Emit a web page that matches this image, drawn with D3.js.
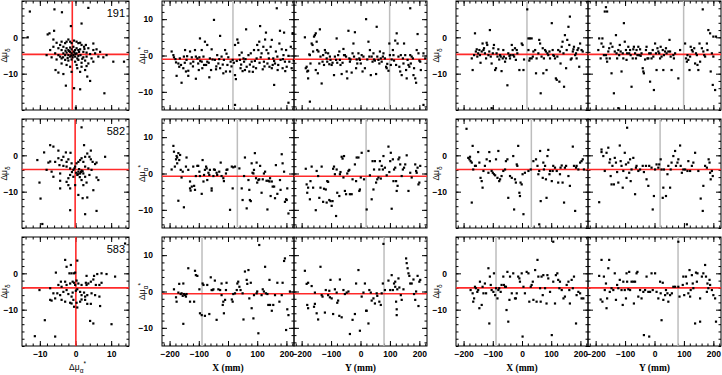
<!DOCTYPE html>
<html>
<head>
<meta charset="utf-8">
<script src="https://cdn.jsdelivr.net/npm/d3@7"></script>
<style>
  body { margin: 0; background: #fff; }
</style>
</head>
<body>
<svg id="chart"></svg>
<script>
// proper motion residuals for three fields, against plate position

var fields = ["191", "582", "583"];
var meanX = [17, 32, -89];          // grey line, X (mm)
var meanY = [99, 19, 80];           // grey line, Y (mm)
var zeroA = [-1.05, -0.75, -0.6];   // red line, mu_a* panels
var zeroD = [-4.7, -3.9, -4.0];     // red line, mu_d panels
var crossA = [-0.9, -0.1, 0.1];     // red vertical line in the mu-mu panels

var posMajor = [-200, -100, 0, 100, 200];
var posMinor = d3.range(-220, 221, 20);
var pmMajor = [-10, 0, 10];
var pmMinor = d3.range(-14, 15, 2);
var dMajor = [-10, 0];
var dMinor = d3.range(-20, 11, 2);

// ---- field 191 ----
var f191_pm = [[-12.8,7.1],[-5.9,7.7],[-3.8,6.9],[3.6,8.1],[-1.3,3.1],[1.7,3.8],[-13.4,0],[-7.8,0.8],[-7.3,1.1],[-6,1.8],[-6.2,-0.6],[7.8,-5.5],[10.6,-6.7],[13.6,-6.7],[-2.7,-13.3],[-0.4,-14],[1.3,-14.3],[4.1,-12],[3.3,-10.8],[8.1,-15.4],[0.1,-19.4],[-5.6,-9],[-4.8,-9.7],[-3.4,-10.1],[-1.1,-9.5],[0.5,-8.5],[1.3,-9.5],[2.7,-9],
[-5.3,-1.5],[-4.3,-2.1],[-3.9,-1.2],[-2.9,-1.6],[-2.5,-1.2],[-2,-0.6],[-1.5,-1.2],[-1.1,-1.6],[-0.4,-0.9],[0.3,-1.2],[0.8,-1.6],[1.3,-1.5],[1.7,-2.1],[2.4,-2.6],[2.9,-2.1],[3.6,-3],[5,-3.5],[5.9,-3.3],
[-4.8,-3],[-3.9,-3.5],[-3.4,-2.6],[-2.5,-3],[-2,-3.5],[-1.5,-2.8],[-1.1,-3.3],[-0.6,-2.6],[-0.1,-3.5],[0.3,-3],[0.8,-3.5],[1.3,-3.3],[2.2,-4],[3.1,-4.2],[4.1,-4.6],[5.5,-4.4],
[-5.7,-4.4],[-4.8,-4.9],[-4.3,-5.3],[-3.4,-4.4],[-2.9,-4.9],[-2.5,-4.2],[-2,-4.9],[-1.5,-5.3],[-1.1,-4.4],[-0.6,-4.9],[-0.1,-5.3],[0.3,-4.4],[0.8,-5.1],[1.4,-4.9],[2.2,-5.5],[3.1,-5.3],[4.5,-5.8],[6.4,-5.3],
[-6.7,-5.5],[-5.3,-6.1],[-3.9,-5.8],[-2.9,-6.2],[-2,-6.4],[-1.1,-6.1],[-0.1,-6.7],[0.8,-6.2],[1.7,-7],[2.7,-6.4],[3.6,-7.2],[5,-6.7],
[-2.5,-7.6],[-1.5,-8.1],[0.3,-7.6],[1.7,-8.1],[3.1,-7.9],[-3.9,-7.2],[-7.1,-3.5],[-8.1,-4.9],[-6.2,-2.6],[5,-1.7],[6.9,-4],[8.7,-4.9],
[-1.5,-4],[-0.8,-5.5],[-0.3,-4.2],[-2.2,-5.7],[0.5,-5.8],[-1.8,-3.8],[1,-4],[-0.5,-3.9],[-1.2,-5],[0,-4.6],[-2.8,-3.7],[1.9,-5.9],[-3.5,-5.5],[2.5,-3.2]];

var f191_aX = [[-193,1.1],[-187,0.1],[-185,-0.5],[-178,-1.9],[-176,-5.6],[-170,-2.2],[-167,-3.1],[-159,-7.5],[-161,-2.6],[-153,-3.5],[-151,-0.3],[-147,1.5],[-144,-4.4],[-142,-1.2],[-136,-5.6],[-136,-4.2],[-130,1.1],[-128,-2.2],[-124,-0.5],[-119,-1.7],[-113,1.5],[-110,-0.3],[-110,-6.4],[-105,-0.8],[-102,-2.2],[-98,-0.5],[-96,4.7],[-90,1.5],[-90,-1.7],[-84,-0.3],[-82,-2.6],[-79,3.8],[-75,-2.6],[-71,-1.7],[-71,2.9],[-64,-6],[-62,-0.8],[-56,1.7],[-53,-1.1],[-48,9.8],[-45,-1.2],[-41,-3.8],[-37,0.1],[-33,-2.2],[-27,5.4],[-27,-3.5],[-22,-0.3],[-16,-4.9],[-14,-1.2],[-10,1.5],[-7,-4.4],[-2,-2.6],[1,-0.5],[7,-4.4],[9,-1.7],[16,-1.2],[24,-13.6],[24,2.9],[24,-5.4],[27,-6.5],[32,4.4],[35,3.5],[39,0.1],[41,-1.2],[43,-3.5],[47,0.8],[50,-4.3],[53,-0.8],[55,-1.7],[58,-4],[62,7.2],[64,-3.1],[70,0.1],[73,-4.4],[78,0.6],[81,-1.7],[87,-3.1],[89,1.5],[96,-3.5],[98,-0.8],[100,2.9],[104,1.5],[107,3.8],[110,8.1],[112,-0.5],[115,0.6],[119,-3.8],[121,2.4],[123,-1.7],[127,4.4],[130,6.3],[132,1.5],[135,-2.2],[138,0.6],[142,-3.1],[146,2.4],[150,4.3],[153,-2.6],[155,-0.8],[158,-8.1],[161,-2.2],[164,1.1],[167,13],[169,-0.3],[172,-2.6],[176,3.3],[178,6.8],[180,-1.2],[184,1.7],[187,-3.5],[190,0.1],[192,6.3],[195,-1.7],[199,1.5],[201,-3.1],[207,-13],[207,-0.1],[210,-1.7],[215,2.4],[218,-3.5],[221,6.1],[223,6.1],[225,-1.4],
[-180,-1],[-165,-0.8],[-148,-2],[-120,-3],[-95,-1.5],[-88,-3.5],[-66,-2],[-58,-4],[-30,-1],[-18,-2.5],[-5,0.5],[12,-3],[20,-2],[45,-2.5],[60,-1],[75,-2.5],[92,-1.5],[108,-2],[125,-3],[140,-0.8],[158,-1.5],[170,-4],[188,-1],[196,-4.3],[-140,-0.2],[-100,-4],[-40,-3],[30,-1.5],[85,-4.5],[150,-3.5]];

var f191_aY = [[-189,5],[-186,-3.5],[-183,-3.1],[-181,-4.4],[-178,-4.2],[-178,-6.3],[-174,0.3],[-172,0.1],[-170,-2.2],[-166,3.3],[-163,2.9],[-161,1.1],[-158,5.2],[-155,5.6],[-152,6.1],[-152,-4],[-149,3.8],[-147,1.5],[-145,-4.9],[-143,1.1],[-140,-2.2],[-138,7.2],[-136,-0.3],[-132,-7.7],[-172,-12.7],[-129,-1.7],[-127,0.1],[-124,-2.6],[-121,1.5],[-118,0.8],[-115,-0.8],[-113,-1.7],[-110,0.6],[-106,-2.4],[-104,-0.3],[-102,-1.2],[-98,-2.6],[-95,-2],[-90,-5.4],[-87,-0.3],[-83,-1.2],[-81,4.7],[-79,-2],[-76,0.1],[-72,1.1],[-70,-1.2],[-68,-2.6],[-64,-5.1],[-61,-2],[-58,1.8],[-56,0.1],[-53,0.1],[-49,-0.3],[-47,-4.4],[-45,-6.3],[-41,6.8],[-38,-0.8],[-36,-1.7],[-34,-1.1],[-30,-4.7],[-27,0.6],[-24,3.3],[-22,-0.3],[-19,6.4],[-15,-3.5],[-13,-1.1],[-11,-2.2],[-7,0.6],[-4,-0.8],[-2,-1.2],[1,-2.2],[4,0.1],[7,-4.4],[10,-0.3],[15,-3.5],[19,10],[23,-1.1],[27,3.8],[30,-0.3],[32,1.5],[35,-5.4],[38,-0.3],[41,-1.7],[44,0.6],[46,-1.1],[49,-1.4],[53,-5.1],[55,7.9],[57,-0.3],[61,-1.2],[64,-2.2],[66,1.1],[69,-0.8],[72,-1.7],[76,-0.3],[78,0.6],[83,-0.8],[87,-3.1],[89,-3.5],[91,-2.3],[95,-4.2],[98,3.3],[100,0.1],[103,-2.6],[106,-1.1],[110,1.5],[112,0.1],[114,-1.4],[118,4.1],[121,-2.6],[123,6.1],[126,3.3],[129,-0.3],[132,-3.1],[135,-4.4],[137,0.1],[140,-5.4],[144,-0.8],[146,-2.2],[148,3.3],[152,0.1],[155,-4],[157,-6.3],[160,-1.2],[163,-2.6],[166,-3.1],[169,0.1],[171,-2.2],[174,-0.3],[178,-0.8],[180,-5.4],[182,-3.5],[186,-6.3],[189,-7.5],[191,1.5],[194,5.9],[197,0.6],[200,-1.4],[203,-1.7],[205,-4],[169,13],[214,-13.6],[220,-0.8],[214,0.6]];

var f191_dX = [[-172,-5.8],[-169,-9],[-164,-4.9],[-161,1.1],[-158,-3.9],[-155,-3.3],[-153,-5.3],[-150,-4.4],[-146,-3.5],[-144,-4.9],[-142,-7],[-138,-3.9],[-135,-1.7],[-132,-3.5],[-130,-3],[-127,-4.4],[-123,-5.8],[-121,-1.5],[-119,-2.1],[-115,-4.9],[-112,-3.9],[-110,2],[-107,-5.3],[-104,-7.2],[-100,-4.4],[-98,-3],[-96,-2.1],[-92,-9],[-89,-8.5],[-87,-4.4],[-84,-5.3],[-81,-3.3],[-78,-6.1],[-75,-4.9],[-73,-5.3],[-70,-9.3],[-66,-5.8],[-64,-3.5],[-62,-5.3],[-58,-6.7],[-55,-5.8],[-50,-13.2],[-47,-4.4],[-43,-5.1],[-41,-5.8],[-39,-4.9],[-35,-2.1],[-32,-3.5],[-30,-4.9],[-27,-5.3],[-24,-3],[-21,-6.2],[-18,-3.5],[-16,-4.4],[-9,-9],[-1,-1.7],[2,-2.1],[5,-9],[7,-6.1],[18,7.7],[22,-0.3],[27,-0.3],[33,-0.3],[22,-3.5],[25,-6.4],[27,-5.8],[33,-5.8],[37,-5.3],[39,-3.9],[45,-3.5],[48,-9.9],[50,-5.8],[56,-4.4],[59,-0.7],[62,-1.7],[64,-15.4],[67,-5.3],[71,-3],[73,-9.9],[75,-5.8],[79,-3.5],[82,-3.9],[84,-9],[87,-4.4],[90,-4.9],[94,-3.9],[96,-5.8],[102,3.9],[105,-3.5],[107,-4.9],[110,-5.1],[113,-5.8],[116,-11.3],[119,-11.7],[121,-5.3],[124,-3.5],[128,-12.2],[130,-3.9],[132,-7.2],[136,-2.6],[139,-1.2],[142,-4.4],[144,-13.6],[147,0.6],[151,-8.5],[153,-3.5],[155,-0.7],[159,2.9],[162,-2.1],[164,5.7],[167,-6.1],[170,-5.8],[174,-3.9],[176,-3.3],[178,-2.6],[182,-4.9],[185,-4.4],[187,-5.8],[190,-3.5],[193,-3],[196,-8.1],[199,-1.7],[204,-3.5],[208,-3.9],[-104,-19.5]];

var f191_dY = [[-191,-3.5],[-188,-0.3],[-183,-5.8],[-180,-1.7],[-177,-0.3],[-174,-2.6],[-172,-4.9],[-169,7.1],[-165,8.3],[-161,7.1],[-165,-4.9],[-163,-5.8],[-161,-6.7],[-157,-3.9],[-154,-3],[-152,-5.8],[-149,-1.7],[-146,-9.9],[-143,-2.6],[-138,-15.4],[-135,-3.9],[-131,0.6],[-129,-4.4],[-127,-5.8],[-123,-3.5],[-120,-4.9],[-118,-2.1],[-115,-3.9],[-112,-9.4],[-108,-4.4],[-106,-5.8],[-104,3.9],[-101,-1.2],[-97,-3.5],[-95,-6.2],[-93,-4.4],[-89,-2.6],[-86,-4.4],[-83,-3.5],[-81,-4.9],[-78,-13.6],[-74,-5.8],[-72,-3.3],[-70,-2.6],[-66,-4.4],[-63,-5.8],[-61,-3.5],[-58,-4.9],[-55,-2.6],[-52,-4.9],[-49,-3.3],[-47,-5.1],[-44,-4.4],[-40,-8.5],[-38,-9.4],[-36,-9.9],[-32,-6.1],[-29,-3.5],[-27,-2.6],[-24,-5.8],[-21,-5.8],[-18,-4.4],[-15,-12.2],[-13,-4.4],[-10,-5.8],[-6,-3.5],[-4,-5.3],[-2,-14.5],[2,-1.7],[5,-4.4],[7,-9],[10,-3],[13,-3.9],[16,-4.4],[19,-5.8],[21,-2.6],[24,-5.3],[28,-3.5],[30,-9],[32,-4.9],[36,-3.9],[39,-3],[41,-4.4],[47,-3.9],[51,-0.7],[53,-3.9],[55,-5.3],[58,-9],[64,-4.9],[66,-5.8],[70,-4.4],[81,-11.3],[87,-3.5],[104,-1.7],[107,-5.8],[110,-6.7],[112,-4.9],[115,-6.2],[119,-9],[121,-5.3],[123,-2.6],[127,-3.5],[130,-3.9],[135,-3],[138,-7.2],[141,-4.4],[144,-4.9],[146,-7.6],[149,-9],[153,-1.7],[155,-6.7],[161,-3],[164,7.7],[166,-3.9],[169,-4.9],[172,-5.3],[178,-1.7],[180,-3.5],[183,2],[189,1.1],[191,-9.4],[195,-4.4],[198,-13.1],[200,-5.3],[206,-14.5],[200,0.2],[209,0.2],[-123,-19.5]];

// ---- field 582 ----
var f582_pm = [[1.7,7.7],[-7.1,2.8],[-6.2,2.4],[-8.8,0.8],[-4.8,1.3],[-2.7,0.8],[-1.4,0.7],[2.4,2.8],[4.3,1.3],[-10.7,-1.3],[-7.6,-2],[-7.1,-1.7],[-5.7,-1.8],[-4.8,-0.8],[-3.9,-1.3],[-3.4,-0.4],[-2.5,-1.8],[-2,-1.1],[-4.5,-2.7],[-3.4,-2.9],[-2.5,-3.1],[-1.1,-2.2],[-1.5,-3.6],[-0.6,-4],[-0.1,-3.1],[0.3,-2.2],[0.8,-1.8],[1.3,-1.3],[1.7,-0.8],[2.2,-1.8],[2.7,-0.4],[3.3,0.5],[3.9,-0.4],[4.3,-1.1],[4.8,-1.8],[5.5,-2.4],[5.9,-2],[2.7,-3.1],[3.6,-3.6],[4.5,-4],[1.7,-4.2],[0.8,-4.5],[1.3,-5],[2.2,-5],[0.5,-5.4],[2.7,-5.9],[3.9,-5.4],[1.7,-6.8],[2.2,-8.2],[3.1,-7.5],[-0.6,-5.9],[-1.5,-5.4],[-2,-6.3],[-4.3,-5],[-6.2,-5.9],[-6.7,-4.5],[-8.1,-4],[-4.3,-7],[-2.5,-7.3],[-2,-8.2],[-4.3,-9.1],[-1.5,-9.1],[-0.1,-8.2],[0.8,-10.9],[2,-11.8],[3.3,-11.6],[5,-9.6],[5.9,-6.1],[6.4,-6.8],[8.3,-0.4],[-10.1,-7.5],[-9.8,-11.9],[-1.5,-15.1],[5.9,-15.3],[2.7,-16.2],[-9.3,-18.9],[0.2,-4.8],[1,-3.8],[1.5,-4.6],[-0.3,-3.6],[0.7,-5.2],[2,-4.4],[-1,-4.6],[1.2,-6]];

var f582_aX = [[-193,1.1],[-187,7.6],[-185,6],[-182,1.9],[-178,3.9],[-176,4.8],[-174,4.4],[-174,2.8],[-170,5.6],[-167,3.7],[-164,5.1],[-162,1],[-159,-1.1],[-155,0.5],[-170,-7.5],[-151,-9.3],[-144,1.9],[-142,4.4],[-136,1],[-130,-2.2],[-130,-4.1],[-128,-4.7],[-124,-3.6],[-119,1.9],[-116,-3.4],[-113,-4.5],[-110,-0.7],[-105,2.1],[-102,2.1],[-98,0.5],[-96,-0.7],[-90,-5.6],[-87,3.7],[-84,-2.2],[-82,-0.4],[-79,1],[-75,1.9],[-73,1.4],[-71,-1.8],[-67,0.2],[-64,-0.4],[-62,1],[-56,-4.1],[-56,-4.7],[-50,-0.7],[-48,1.1],[-45,1],[-39,0.2],[-37,-0.4],[-30,0.5],[-25,3],[-22,-0.7],[-16,-1.3],[-14,-2.1],[-7,0],[-5,1],[-2,1.1],[7,-10],[13,1.9],[16,-4.1],[18,1.7],[24,1.9],[39,1.4],[47,-4.1],[50,-7.3],[55,-0.7],[58,4.4],[64,-9.6],[70,-1.8],[73,-4.5],[75,-7.3],[78,-7.6],[81,2.8],[84,0.2],[87,0],[89,1],[92,5.6],[96,-1.3],[98,3],[100,-2.5],[104,-1.8],[107,-1.6],[110,2.1],[115,-5.3],[119,-1.6],[123,0],[127,0.5],[132,-2],[135,-9.9],[138,-2],[142,-2.2],[144,-1.3],[146,-6.2],[150,-2.2],[153,-3.6],[158,-3.6],[161,-6.8],[164,2.3],[169,-5.6],[178,-1.8],[180,-4.5],[184,5.3],[187,2.8],[192,0.5],[195,-7.8],[199,-7.1],[201,-7.3],[203,-4.1],[207,-11]];

var f582_aY = [[-186,1.3],[-183,-3],[-181,-5.3],[-178,-3.9],[-172,-7.1],[-170,-2.1],[-166,1.9],[-161,-3.9],[-152,-10.1],[-149,0.7],[-144,-0.7],[-140,-6.7],[-136,-3.9],[-132,1.9],[-127,-7.8],[-124,-4.2],[-118,-4.4],[-115,-8],[-113,-2.1],[-110,-2.3],[-106,-7.3],[-102,-7.6],[-98,-8.9],[-95,-7.6],[-93,1.3],[-90,1.9],[-87,-0.2],[-83,-11.7],[-81,1.1],[-79,-5.3],[-72,-6.2],[-70,-0.2],[-68,0.4],[-64,4.6],[-61,4.1],[-58,-1.1],[-56,4.8],[-53,-4.8],[-49,-5.7],[-45,0],[-41,0.7],[-38,1],[-36,-5.7],[-30,-5.7],[-27,-1.6],[-19,2.5],[-15,-2.1],[-13,4.4],[-7,4.4],[-4,-4.8],[-2,-4.4],[1,-1.1],[4,5.7],[12,-1.6],[21,-9.9],[27,6.2],[32,-0.5],[38,-7.1],[41,3.4],[44,-4.4],[46,1.1],[49,3.4],[53,-2.5],[57,-1.6],[61,-1.1],[64,1.1],[66,3.4],[69,-1.4],[72,2.1],[76,1.1],[78,4.8],[83,1.6],[89,-0.5],[95,7.4],[98,0.4],[101,3.4],[103,5.7],[106,-9.7],[110,3.9],[112,-2.1],[114,1.1],[118,1.6],[121,-2.1],[123,-4.8],[126,-3.4],[129,3.9],[132,4.4],[135,2.5],[140,-0.7],[144,1.1],[148,1.6],[152,2.5],[157,5],[163,-4.8],[169,0.2],[174,-1.1],[186,2.5],[189,0.7],[191,0.2],[194,1.6],[197,-3],[200,-2.5],[203,2.1]];

var f582_dX = [[-190,7.3],[-184,-0.7],[-180,-1.1],[-178,-0.4],[-176,-1.6],[-172,-2],[-169,2.6],[-167,-3.9],[-172,-13],[-161,-2.9],[-158,-2.9],[-150,0.9],[-146,-2],[-142,-6.2],[-138,-7.1],[-135,-8.9],[-132,-4.3],[-127,-2.9],[-121,-1.1],[-115,-4.8],[-112,0.9],[-110,-1.6],[-104,-4.3],[-100,-4.8],[-96,-5.2],[-92,-5.5],[-89,-1.1],[-84,-6.2],[-81,1.2],[-78,-7.1],[-75,-6.6],[-70,-5.7],[-64,-4.3],[-58,-3.9],[-55,-1.6],[-50,-1.1],[-47,-11.7],[-41,-5.7],[-35,-6.2],[-30,-0.2],[-27,-14.9],[-24,-6.6],[-21,-7.5],[-18,-2.5],[-16,-2.9],[-13,2.6],[-9,-10.3],[-7,-11.2],[-5,-7.5],[-1,-8],[2,-5.2],[5,-16.2],[10,-4.8],[22,-4.3],[30,-3.9],[39,-1.6],[48,-1.1],[53,-2.9],[56,-5.2],[59,-4.3],[62,1.2],[64,-12.6],[71,-6.2],[73,-2],[75,-3.9],[79,-2.9],[82,-6.6],[84,-11.7],[87,-0.2],[90,1.5],[94,-5.2],[96,-4.3],[102,-7.1],[105,-4.3],[107,-2.9],[113,-3.4],[119,-4.3],[124,-7.5],[130,-5.2],[132,-3.4],[136,-2.8],[139,-7.5],[144,-13],[147,-3.4],[151,-2.9],[159,-5.7],[164,-8.4],[174,2.4],[178,-2.9],[182,-15.3],[185,-3.4],[187,-2.9],[193,-3.9],[199,-2],[204,-1.6],[208,-1.1],[212,-3.9],[59,-19]];

var f582_dY = [[-188,-12.9],[-180,1.6],[-180,0.9],[-174,-0.2],[-169,-4.3],[-163,0.7],[-157,2.1],[-153,-2],[-151,-1.1],[-149,-5.7],[-146,-8],[-143,-2.9],[-138,-8],[-135,-0.7],[-131,-2],[-127,-4.6],[-123,-7.5],[-118,2.7],[-115,-1.6],[-112,-2.9],[-108,-8.9],[-106,-4.3],[-101,0.7],[-97,-2.5],[-95,-6.2],[-93,7.6],[-89,-2],[-86,-4.8],[-83,-1.1],[-81,-7.1],[-78,-3.9],[-72,-0.7],[-66,-10.7],[-63,-3.4],[-61,-2.9],[-55,-4.3],[-49,-3.9],[-40,-2.9],[-36,-4.6],[-29,-2.9],[-27,-6.6],[-21,-8.4],[-18,-2.9],[-10,-3.4],[-6,-14.9],[-2,-11.2],[2,-3.9],[7,-2.5],[13,-3.4],[16,-2.5],[21,-1.1],[24,-3.9],[28,-11.7],[30,-8.9],[32,-3.9],[39,-11.2],[44,-5.2],[47,-2.9],[53,-8.9],[55,-3.9],[58,-2],[64,-0.2],[70,1.2],[73,-2.9],[78,-2],[81,-1.1],[87,2.7],[89,-2.9],[93,-4.8],[98,-3.9],[104,-3.9],[110,-19],[112,-4.3],[115,-1.6],[121,-4.3],[127,-2.9],[132,-2],[138,0.7],[149,-4.3],[157,-11.9],[164,-15.3],[166,-8.4],[172,-2.9],[178,-3.4],[184,-1.1],[187,-2],[189,-4.8],[191,-6.6],[195,-4.3],[198,-5.7]];

// ---- field 583 ----
var f583_pm = [[-2.9,3.7],[-2.5,1.8],[-1.3,2.3],[0.5,3.5],[-1.7,0],[-1.1,0],[-0.4,0],[-0.1,0.2],[-5.5,0.2],[3.1,-0.7],[5.2,-0.7],[6.1,-0.2],[7.3,0],[8.7,-0.2],[11.1,-0.9],[13.9,8.2],[-4.1,-2.3],[-2.9,-2.3],[-0.8,-2.3],[-0.4,-2.6],[0.3,-2],[-4.8,-3.2],[-3.9,-3.7],[-2.5,-3.2],[-1.5,-2.8],[-0.1,-3.2],[0.8,-2.8],[1.7,-3.2],[2.9,-2.6],[3.1,-3.2],[3.6,-2.8],[4.3,-2.3],[5,-1.7],[5.7,-3.2],[6.7,-3.2],[7.3,-2.6],[-7.1,-4.1],[-6.2,-5.5],[-5.1,-5.5],[-4.3,-6],[-3.4,-5.1],[-2.5,-4.6],[-2,-5.7],[-1.1,-6.4],[-0.8,-5.3],[0.1,-4.8],[0.5,-4.4],[1.3,-5.1],[1.7,-6],[2.4,-5.3],[2.7,-6.4],[3.3,-6],[4.5,-5.5],[5.5,-6],[6.7,-6.4],[-10.1,-4.6],[-7.1,-7.3],[-6.7,-7.5],[-5.7,-6.9],[-3.9,-7.3],[-2.9,-7.8],[-1.5,-8.1],[-0.4,-9.2],[0.5,-9.4],[1.7,-7.2],[2.7,-7.3],[3.3,-8.4],[4.3,-8.4],[6.9,-9],[0.3,-8.1],[-1.1,-8.3],[-11.4,-17.3],[-5.7,-17.4],[-8.6,-12.9],[4.1,-13.1],[5,-13.8],[10.1,-14],[1.3,-7.8],[-0.6,-7.3]];

var f583_aX = [[-185,0.6],[-178,-1.6],[-176,-2.8],[-170,-0.3],[-167,2.1],[-162,-0.7],[-159,-0.5],[-155,-1.2],[-153,2.2],[-153,-8.9],[-151,-0.7],[-147,-1],[-144,-1.4],[-142,-0.7],[-136,6.4],[-130,-2.8],[-116,-2.8],[-113,5.7],[-110,4.5],[-105,4.3],[-98,0.6],[-96,-6],[-90,-6.5],[-87,2.2],[-84,1.8],[-79,-6.7],[-71,1.8],[-64,-6.2],[-59,3.9],[-56,0.4],[-53,0.4],[-50,0.6],[-45,3],[-39,-7.8],[-33,0.6],[-27,0.4],[-22,2.2],[-22,-1],[-18,-3.7],[-16,-2.8],[-14,-6],[-10,-2.3],[-7,0.4],[-5,2.4],[13,-2.2],[16,-2.8],[18,-0.7],[24,-0.5],[30,0.4],[32,2.2],[35,2.7],[39,1.3],[43,0.4],[50,-0.5],[53,-7.7],[58,5.5],[64,3.2],[66,2.1],[70,5.9],[73,-1.9],[78,2.4],[81,-4.6],[87,-7.4],[89,-1],[98,-0.5],[100,0],[104,-11.5],[107,12.8],[115,-1],[119,0.6],[123,0],[127,6.8],[130,-0.5],[135,-0.7],[138,-3.7],[142,3.2],[144,-3.7],[150,-5.3],[155,-3.7],[161,-1],[169,2.4],[176,-2.8],[184,-1],[187,2.4],[192,8.4],[195,9.1],[199,-10.6],[203,-4.9],[207,-6.5],[212,0]];

var f583_aY = [[-189,5.7],[-183,2.1],[-178,2.4],[-181,-3.7],[-178,-4.6],[-166,1.5],[-155,-0.3],[-158,-4.2],[-155,-3.4],[-149,-6],[-144,-7.7],[-136,6.8],[-132,-1],[-129,-1.4],[-121,-5.8],[-118,0.4],[-110,-1],[-106,0.2],[-104,-1.6],[-102,3.2],[-98,-1.9],[-93,-6.2],[-87,0.6],[-81,-0.3],[-79,-3.1],[-76,-2.5],[-72,-6.7],[-70,3.3],[-64,-7.1],[-58,0.4],[-53,-0.7],[-47,-0.3],[-41,0],[-36,-11.7],[-27,-7.8],[-19,-6.2],[-15,2.2],[-7,5.9],[-2,-10.8],[4,-1.4],[10,-0.3],[15,2.2],[19,-5.3],[21,-5.3],[27,-8.8],[30,0.4],[35,-0.3],[38,-2.5],[44,-1.9],[49,-3.3],[55,-0.5],[57,-1.2],[64,-2.8],[69,-3.7],[72,-0.5],[76,2.2],[78,13.1],[83,0.4],[95,3],[101,0.4],[106,4.5],[110,0.4],[114,2.2],[118,1.3],[118,2.7],[121,-2.8],[123,-4.9],[123,-6.5],[125,0.6],[129,3.6],[132,1.1],[137,-1],[140,-2.3],[146,0.6],[155,9.1],[157,7.8],[160,6.4],[163,5],[166,4.3],[169,2.2],[174,2.2],[180,3.3],[182,-0.7],[186,-2.3],[189,0],[194,4.3],[197,-4],[200,2.7],[203,3.2]];

var f583_dX = [[-176,-4.6],[-169,-5.5],[-167,-7.8],[-164,-6.9],[-161,-3.7],[-158,-4.1],[-153,-5.1],[-150,-4.6],[-146,-9.6],[-144,-2.3],[-138,-8.7],[-135,-3.7],[-132,-5.5],[-127,-2.8],[-123,-5.5],[-115,1.4],[-112,-13.8],[-110,-0.9],[-107,-3.2],[-104,-4.6],[-98,-5.1],[-96,0],[-92,-6],[-89,-4.1],[-84,-6.9],[-81,-4.6],[-78,-4.1],[-73,-5.1],[-70,-3.2],[-64,-0.9],[-62,-3.2],[-58,-3.7],[-55,-3.7],[-53,-10.1],[-50,0.4],[-47,-13.3],[-43,-7.3],[-41,-0.9],[-35,-5.5],[-30,0],[-24,-6.9],[-21,-6.9],[-18,-5.5],[-13,-0.9],[-9,-1.4],[-7,-2.3],[-1,0],[2,-17.4],[5,-3.7],[10,-5.5],[16,0.4],[22,0],[25,-7.8],[30,-3.7],[33,-3.2],[37,-2.3],[39,-7.3],[45,0.9],[50,-7.8],[53,3.7],[56,-0.9],[62,-4.1],[64,-7.8],[67,-0.9],[71,-6],[73,-0.5],[79,-4.1],[84,-8.3],[87,-0.5],[90,-1.4],[96,-5.1],[102,-17],[107,-2.3],[107,8.7],[113,-8.3],[116,-0.5],[121,0],[124,-1.8],[128,-4.1],[130,-2.3],[136,-4.6],[142,-6.9],[147,-6.4],[153,-3.2],[159,-2.3],[162,-4.6],[164,-8.3],[170,-1.8],[174,-4.1],[178,-0.9],[185,-13.8],[187,-6],[193,-5.1],[199,-5.5],[204,-6.9],[210,-6.9]];

var f583_dY = [[-188,-0.7],[-183,-7.2],[-180,3.7],[-177,-7.8],[-172,-0.9],[-169,-4.6],[-165,-2.8],[-163,-9.6],[-161,-6.9],[-157,1.4],[-154,3.7],[-152,-5.1],[-146,-4.1],[-140,-4.6],[-135,0],[-131,-7.3],[-127,-3.2],[-123,-4.1],[-118,-1.8],[-112,-4.6],[-108,-8.7],[-106,-2.3],[-101,-4.6],[-97,-6.9],[-95,0],[-93,-2.3],[-89,-4.4],[-86,0.4],[-83,-4.6],[-78,-2.3],[-72,-2.3],[-70,-8.3],[-66,-2.3],[-61,0],[-58,0.4],[-55,-6.4],[-49,-4.6],[-44,-6.9],[-38,-5.1],[-36,-17],[-32,-4.6],[-27,-0.9],[-21,-5.1],[-18,-17.4],[-15,-5.1],[-10,0],[-6,-4.6],[2,0],[7,-5.1],[13,-6.9],[19,-2.3],[21,-5.5],[24,-12.9],[28,-2.6],[30,-7.3],[36,-6],[39,-4.6],[44,-5.5],[47,-7.8],[53,-6],[59,-5.5],[64,-3.7],[70,-3.7],[81,-3.7],[85,-6.4],[96,-3.2],[98,-0.9],[101,-6],[107,-0.9],[110,-2.8],[115,-5.5],[119,0.9],[121,-6.4],[123,-4.6],[127,-0.5],[130,-2.8],[132,-4.1],[138,-13.8],[141,0.2],[144,-2.3],[146,0],[155,-13.3],[155,-6.9],[161,-0.9],[166,0],[172,2.3],[175,-0.9],[178,-5.1],[180,-2.8],[183,-4.1],[187,-1.8],[189,-3.2],[195,-4.6],[200,-6],[206,-6.9],[209,-13.3],[81,8.7]];

var rowsData = [
  {pm: f191_pm, aX: f191_aX, aY: f191_aY, dX: f191_dX, dY: f191_dY},
  {pm: f582_pm, aX: f582_aX, aY: f582_aY, dX: f582_dX, dY: f582_dY},
  {pm: f583_pm, aX: f583_aX, aY: f583_aY, dX: f583_dX, dY: f583_dY}
];

// layout
var W = 722, H = 375;
var cols = [[22, 129], [162, 294], [294, 427], [456, 588], [588, 721]];
var rowsY = [[1, 110], [119, 228], [237, 346]];
var tickFont = "Liberation Sans";
var labFont = "Liberation Serif";

var svg = d3.select("#chart").attr("width", W).attr("height", H);
var fmt = d3.format("d");

function addAxis(g, axis, tx, ty) {
  var a = g.append("g").attr("transform", "translate(" + tx + "," + ty + ")").call(axis);
  a.select(".domain").remove();
  a.attr("font-family", tickFont).attr("font-size", 8.5).attr("font-weight", "bold");
  return a;
}

// one panel: frame, ticks on all sides, optional labels
function panel(x, y, o) {
  var g = svg.append("g");
  var x0 = x.range()[0], x1 = x.range()[1];
  var yb = y.range()[0], yt = y.range()[1];

  [[o.xMaj, 5], [o.xMin, 2.5]].forEach(function(t, i) {
    addAxis(g, d3.axisBottom(x).tickValues(t[0]).tickSize(-t[1]).tickPadding(5)
      .tickFormat(i == 0 && o.xLabels ? fmt : ""), 0, yb);
    addAxis(g, d3.axisTop(x).tickValues(t[0]).tickSize(-t[1]).tickFormat(""), 0, yt);
  });
  [[o.yMaj, 5], [o.yMin, 2.5]].forEach(function(t, i) {
    addAxis(g, d3.axisLeft(y).tickValues(t[0]).tickSize(-t[1]).tickPadding(o.yPad || 8)
      .tickFormat(i == 0 && o.yLabels ? fmt : ""), x0, 0);
    addAxis(g, d3.axisRight(y).tickValues(t[0]).tickSize(-t[1]).tickFormat(""), x1, 0);
  });

  g.append("rect")
    .attr("x", x0).attr("y", yt)
    .attr("width", x1 - x0).attr("height", yb - yt)
    .attr("fill", "none").attr("stroke", "#000").attr("stroke-width", 1);

  return g;
}

function vline(g, x, y, v, color, w) {
  g.append("line")
    .attr("x1", x(v)).attr("x2", x(v))
    .attr("y1", y.range()[1]).attr("y2", y.range()[0])
    .attr("stroke", color).attr("stroke-width", w);
}
function hline(g, x, y, v, color, w) {
  g.append("line")
    .attr("x1", x.range()[0]).attr("x2", x.range()[1])
    .attr("y1", y(v)).attr("y2", y(v))
    .attr("stroke", color).attr("stroke-width", w);
}
function dots(g, x, y, pts) {
  g.selectAll(null).data(pts).enter().append("rect")
    .attr("x", function(d) { return x(d[0]) - 1.1; })
    .attr("y", function(d) { return y(d[1]) - 1.1; })
    .attr("width", 2.2).attr("height", 2.2)
    .attr("fill", "#000");
}

// rotated y label with subscript (and optional star)
function yLabel(x, yc, sub, star) {
  var t = svg.append("text")
    .attr("transform", "translate(" + x + "," + yc + ") rotate(-90)")
    .attr("text-anchor", "middle")
    .attr("font-family", tickFont).attr("font-size", 8.5);
  t.append("tspan").text("Δμ");
  t.append("tspan").attr("font-size", 6.5).attr("dy", 2.5).text(sub);
  if (star) t.append("tspan").attr("font-size", 6.5).attr("dy", -5).text("*");
}

var RED = "#ff2a2a", GREY = "#bdbdbd";

rowsData.forEach(function(rd, r) {
  var yb = rowsY[r][1], yt = rowsY[r][0];
  var last = r == 2;
  var yA = d3.scaleLinear().domain([-15, 15]).range([yb, yt]);
  var yD = d3.scaleLinear().domain([-20, 10]).range([yb, yt]);
  var xPM = d3.scaleLinear().domain([-15, 15]).range(cols[0]);

  // mu_a* vs mu_d
  var g0 = panel(xPM, yD, {xMaj: pmMajor, xMin: pmMinor, yMaj: dMajor, yMin: dMinor,
    xLabels: last, yLabels: true, yPad: 4});
  vline(g0, xPM, yD, crossA[r], RED, 1.6);
  hline(g0, xPM, yD, zeroD[r], RED, 1.6);
  dots(g0, xPM, yD, rd.pm);
  g0.append("text")
    .attr("x", cols[0][1] - 4).attr("y", yt + 16)
    .attr("text-anchor", "end")
    .attr("font-family", tickFont).attr("font-size", 11)
    .text(fields[r]);
  yLabel(cols[0][0] - 15, (yt + yb) / 2, "δ", false);

  // four position panels
  var specs = [
    {c: 1, y: yA, pts: rd.aX, mean: meanX[r], zero: zeroA[r], labels: true},
    {c: 2, y: yA, pts: rd.aY, mean: meanY[r], zero: zeroA[r], labels: false},
    {c: 3, y: yD, pts: rd.dX, mean: meanX[r], zero: zeroD[r], labels: true},
    {c: 4, y: yD, pts: rd.dY, mean: meanY[r], zero: zeroD[r], labels: false}
  ];
  specs.forEach(function(s) {
    var x = d3.scaleLinear().domain([-226, 226]).range(cols[s.c]);
    var isD = s.c >= 3;
    var g = panel(x, s.y, {xMaj: posMajor, xMin: posMinor,
      yMaj: isD ? dMajor : pmMajor, yMin: isD ? dMinor : pmMinor,
      xLabels: last, yLabels: s.labels, yPad: 9});
    vline(g, x, s.y, s.mean, GREY, 1.5);
    hline(g, x, s.y, s.zero, RED, 1.6);
    dots(g, x, s.y, s.pts);
    if (s.labels) yLabel(cols[s.c][0] - 17, (yt + yb) / 2, isD ? "δ" : "α", !isD);
  });
});

// x axis titles
var xTitles = [["X (mm)", 1], ["Y (mm)", 2], ["X (mm)", 3], ["Y (mm)", 4]];
xTitles.forEach(function(t) {
  svg.append("text")
    .attr("x", (cols[t[1]][0] + cols[t[1]][1]) / 2).attr("y", 371)
    .attr("text-anchor", "middle")
    .attr("font-family", labFont).attr("font-size", 9.5).attr("font-weight", "bold")
    .text(t[0]);
});
var pmTitle = svg.append("text")
  .attr("x", (cols[0][0] + cols[0][1]) / 2 + 2).attr("y", 370)
  .attr("text-anchor", "middle")
  .attr("font-family", tickFont).attr("font-size", 8.5);
pmTitle.append("tspan").text("Δμ");
pmTitle.append("tspan").attr("font-size", 6.5).attr("dy", 2.5).text("α");
pmTitle.append("tspan").attr("font-size", 6.5).attr("dy", -7).text("*");
</script>
</body>
</html>
